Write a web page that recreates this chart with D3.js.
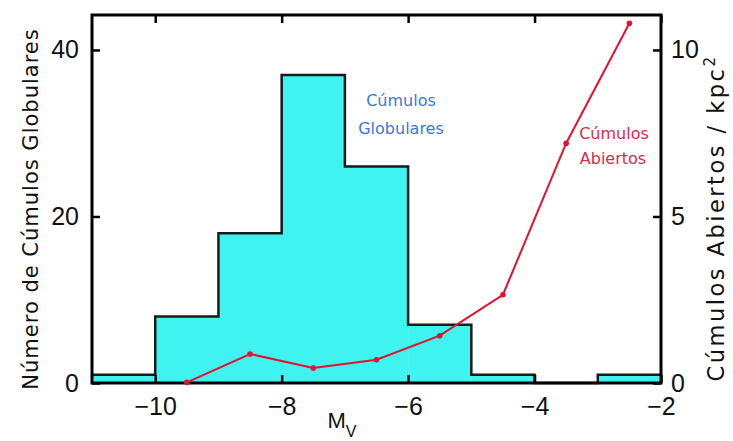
<!DOCTYPE html>
<html lang="es">
<head>
<meta charset="UTF-8">
<script src="https://d3js.org/d3.v7.min.js"></script>
<style>
  body { margin: 0; background: #fff; }
  svg { display: block; }
</style>
</head>
<body>
<svg class="chart"></svg>
<script>
// histogram of globular clusters, 1 mag bins
var binStarts = [-11, -10, -9, -8, -7, -6, -5, -4, -3];
var gcCounts = [1, 8, 18, 37, 26, 7, 1, 0, 1];

// open clusters per kpc^2
var ocMag = [-9.5, -8.5, -7.5, -6.5, -5.5, -4.5, -3.5, -2.5];
var ocDensity = [0.02, 0.87, 0.45, 0.7, 1.42, 2.65, 7.2, 10.8];

var xTicks = [-10, -8, -6, -4, -2];
var leftTicks = [0, 20, 40];
var rightTicks = [0, 5, 10];

var W = 733, H = 441;
var pLeft = 92, pRight = 661, pTop = 15, pBottom = 383;

var svg = d3.select(".chart").attr("width", W).attr("height", H);

var x = d3.scaleLinear().domain([-11, -2]).range([pLeft, pRight]);
var yL = d3.scaleLinear().domain([0, 44.2]).range([pBottom, pTop]);
var yR = d3.scaleLinear().domain([0, 11.05]).range([pBottom, pTop]);

var tickFont = "'Liberation Sans', Arial, sans-serif";
var textFont = "'DejaVu Sans', Verdana, sans-serif";

// bars
svg.append("g").selectAll("rect")
    .data(gcCounts)
    .enter().append("rect")
    .attr("x", function(d, i) { return x(binStarts[i]); })
    .attr("y", function(d) { return yL(d); })
    .attr("width", function(d, i) { return x(binStarts[i] + 1) - x(binStarts[i]) + 0.5; })
    .attr("height", function(d) { return pBottom - yL(d); })
    .attr("fill", "#3ff3f0");

// step outline
var steps = binStarts.map(function(b, i) { return [b, gcCounts[i]]; });
steps.push([-2, gcCounts[gcCounts.length - 1]]);
svg.append("path")
    .datum(steps)
    .attr("d", d3.line()
        .x(function(d) { return x(d[0]); })
        .y(function(d) { return yL(d[1]); })
        .curve(d3.curveStepAfter))
    .attr("fill", "none")
    .attr("stroke", "#1a1a1a")
    .attr("stroke-width", 2.5);

// axes, ticks inward
var axB = svg.append("g").attr("transform", "translate(0," + pBottom + ")")
    .call(d3.axisBottom(x).tickValues(xTicks).tickSizeInner(-8).tickSizeOuter(0).tickPadding(14));
var axT = svg.append("g").attr("transform", "translate(0," + pTop + ")")
    .call(d3.axisTop(x).tickValues(xTicks).tickSizeInner(-8).tickSizeOuter(0).tickFormat(""));
var axL = svg.append("g").attr("transform", "translate(" + pLeft + ",0)")
    .call(d3.axisLeft(yL).tickValues(leftTicks).tickSizeInner(-8).tickSizeOuter(0).tickPadding(13));
var axR = svg.append("g").attr("transform", "translate(" + pRight + ",0)")
    .call(d3.axisRight(yR).tickValues(rightTicks).tickSizeInner(-8).tickSizeOuter(0).tickPadding(10));

[axB, axT, axL, axR].forEach(function(a) {
    a.select(".domain").remove();
    a.selectAll(".tick line").attr("stroke", "#000").attr("stroke-width", 2.5);
    a.selectAll(".tick text")
        .attr("font-family", tickFont)
        .attr("font-size", 25)
        .attr("fill", "#111");
});

// frame
svg.append("rect")
    .attr("x", pLeft).attr("y", pTop)
    .attr("width", pRight - pLeft).attr("height", pBottom - pTop)
    .attr("fill", "none").attr("stroke", "#000").attr("stroke-width", 3);

// open clusters line
svg.append("path")
    .datum(ocMag.map(function(m, i) { return [m, ocDensity[i]]; }))
    .attr("d", d3.line()
        .x(function(d) { return x(d[0]); })
        .y(function(d) { return yR(d[1]); }))
    .attr("fill", "none")
    .attr("stroke", "#e8102e")
    .attr("stroke-width", 2);

svg.append("g").selectAll("circle")
    .data(ocMag)
    .enter().append("circle")
    .attr("cx", function(d) { return x(d); })
    .attr("cy", function(d, i) { return yR(ocDensity[i]); })
    .attr("r", 2.8)
    .attr("fill", "#e8102e");

// series labels
var gcLabel = svg.append("text")
    .attr("y", 106)
    .attr("text-anchor", "middle")
    .attr("font-family", textFont)
    .attr("font-size", 16)
    .attr("fill", "#3a78d8");
gcLabel.append("tspan").attr("x", 401).text("Cúmulos");
gcLabel.append("tspan").attr("x", 401).attr("dy", 28).text("Globulares");

var ocLabel = svg.append("text")
    .attr("y", 139)
    .attr("text-anchor", "middle")
    .attr("font-family", textFont)
    .attr("font-size", 16)
    .attr("fill", "#e0284a");
ocLabel.append("tspan").attr("x", 614).text("Cúmulos");
ocLabel.append("tspan").attr("x", 613).attr("dy", 25).text("Abiertos");

// axis titles
svg.append("text")
    .attr("transform", "translate(38,209) rotate(-90)")
    .attr("text-anchor", "middle")
    .attr("font-family", textFont)
    .attr("font-size", 21)
    .attr("letter-spacing", 1)
    .attr("fill", "#111")
    .text("Número de Cúmulos Globulares");

var rTitle = svg.append("text")
    .attr("transform", "translate(724,218) rotate(-90)")
    .attr("text-anchor", "middle")
    .attr("font-family", textFont)
    .attr("font-size", 22.5)
    .attr("letter-spacing", 2.5)
    .attr("fill", "#111");
rTitle.append("tspan").text("Cúmulos Abiertos / kpc");
rTitle.append("tspan").attr("dy", -9).attr("font-size", 15).text("2");

var mv = svg.append("text")
    .attr("x", 342).attr("y", 428)
    .attr("text-anchor", "middle")
    .attr("font-family", tickFont)
    .attr("font-size", 22)
    .attr("fill", "#111");
mv.append("tspan").text("M");
mv.append("tspan").attr("dy", 9).attr("font-size", 16).text("V");
</script>
</body>
</html>
